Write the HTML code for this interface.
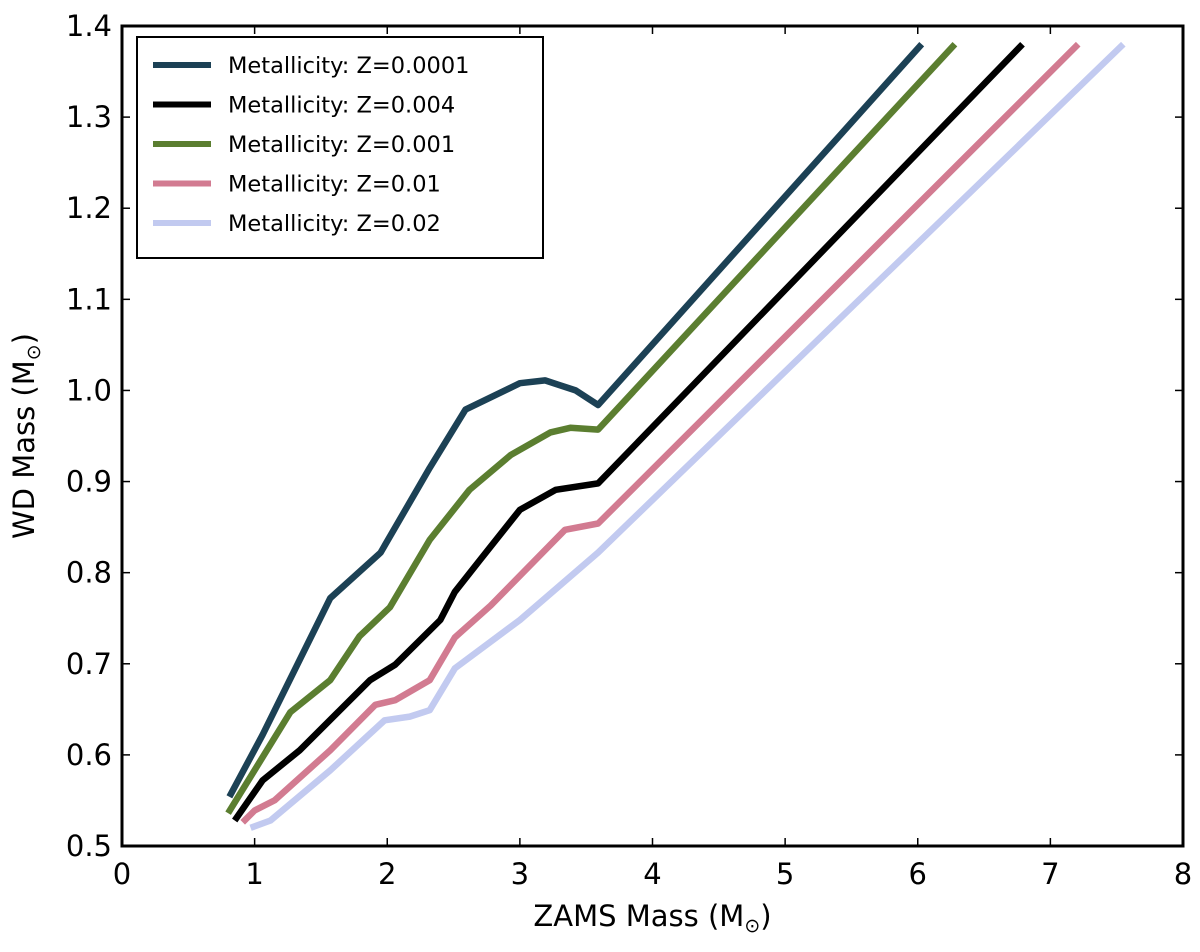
<!DOCTYPE html>
<html><head><meta charset="utf-8"><style>
body{margin:0;background:#fff}
svg text{font-family:"DejaVu Sans","Liberation Sans",sans-serif;fill:#000}
</style></head><body>
<svg id="chart" width="1200" height="947" xmlns="http://www.w3.org/2000/svg">
<g id="plot"></g>
</svg>
<script>
const seriesNames=["Metallicity: Z=0.0001","Metallicity: Z=0.004","Metallicity: Z=0.001","Metallicity: Z=0.01","Metallicity: Z=0.02"];
const seriesColors=["#1c4155","#000000","#5b7e30","#d27b91","#c2caf0"];
const xTicks=[0,1,2,3,4,5,6,7,8];
const yTicks=[0.5,0.6,0.7,0.8,0.9,1.0,1.1,1.2,1.3,1.4];
const z0001x=[0.81,1.06,1.57,1.95,2.32,2.59,3.0,3.19,3.42,3.59,6.03];
const z0001y=[0.554,0.622,0.772,0.822,0.915,0.979,1.008,1.011,1.0,0.984,1.38];
const z004x=[0.85,1.06,1.34,1.87,2.06,2.40,2.51,2.70,3.0,3.27,3.59,6.79];
const z004y=[0.528,0.572,0.605,0.682,0.699,0.748,0.779,0.814,0.869,0.891,0.898,1.38];
const z001x=[0.80,1.27,1.57,1.79,2.02,2.32,2.62,2.93,3.23,3.38,3.59,6.28];
const z001y=[0.536,0.647,0.682,0.730,0.762,0.836,0.891,0.929,0.954,0.959,0.957,1.38];
const z01x=[0.91,1.0,1.15,1.57,1.91,2.06,2.32,2.51,2.78,3.34,3.59,7.21];
const z01y=[0.526,0.539,0.55,0.605,0.655,0.660,0.682,0.729,0.764,0.847,0.854,1.38];
const z02x=[0.97,1.12,1.57,1.98,2.17,2.32,2.51,3.0,3.59,7.55];
const z02y=[0.520,0.528,0.583,0.638,0.642,0.649,0.695,0.748,0.822,1.38];
const seriesX=[z0001x,z004x,z001x,z01x,z02x];
const seriesY=[z0001y,z004y,z001y,z01y,z02y];

const L=122,R=1183,T=26,B=846;
const xS=v=>L+(v-0)/8*(R-L);
const yS=v=>B-(v-0.5)/0.9*(B-T);
const NS="http://www.w3.org/2000/svg";
const g=document.getElementById('plot');
function mk(t,a,p){const e=document.createElementNS(NS,t);for(const k in a)e.setAttribute(k,a[k]);(p||g).appendChild(e);return e;}

const clip=mk('clipPath',{id:'cp'});mk('rect',{x:L,y:T,width:R-L,height:B-T},clip);
seriesX.forEach((xs,i)=>{
  const d=xs.map((x,j)=>(j?'L':'M')+xS(x).toFixed(1)+','+yS(seriesY[i][j]).toFixed(1)).join(' ');
  const p=mk('path',{d:d,fill:'none',stroke:seriesColors[i],'stroke-width':6.5,'stroke-linejoin':'round','clip-path':'url(#cp)'});
  
  
});
xTicks.forEach(v=>{
  const x=xS(v);
  mk('line',{x1:x,y1:B,x2:x,y2:B-8,stroke:'#000','stroke-width':1.5});
  mk('line',{x1:x,y1:T,x2:x,y2:T+8,stroke:'#000','stroke-width':1.5});
  const t=mk('text',{x:x,y:B+38,'text-anchor':'middle','font-size':29});t.textContent=v;
  
  
});
yTicks.forEach(v=>{
  const y=yS(v);
  mk('line',{x1:L,y1:y,x2:L+8,y2:y,stroke:'#000','stroke-width':1.5});
  mk('line',{x1:R,y1:y,x2:R-8,y2:y,stroke:'#000','stroke-width':1.5});
  const t=mk('text',{x:L-10,y:y+10,'text-anchor':'end','font-size':29});t.textContent=v.toFixed(1);
  
  
});
const fr=mk('rect',{x:L,y:T,width:R-L,height:B-T,fill:'none',stroke:'#000','stroke-width':3});


const xl=mk('text',{x:(L+R)/2,y:926,'text-anchor':'middle','font-size':29});
xl.innerHTML='ZAMS Mass (M<tspan font-size="19" dy="6">⊙</tspan><tspan dy="-6">)</tspan>';


const yl=mk('text',{x:0,y:0,'text-anchor':'middle','font-size':29,transform:'translate(34,436) rotate(-90)'});
yl.innerHTML='WD Mass (M<tspan font-size="19" dy="6">⊙</tspan><tspan dy="-6">)</tspan>';


const lg=mk('g',{});


mk('rect',{x:137,y:37,width:406,height:221,fill:'#fff',stroke:'#000','stroke-width':2},lg);
seriesNames.forEach((n,i)=>{
  const y=65+i*39.5;
  mk('line',{x1:153,y1:y,x2:211,y2:y,stroke:seriesColors[i],'stroke-width':6},lg);
  const t=mk('text',{x:228,y:y+8,'font-size':22.5},lg);t.textContent=n;
  
  
});
</script>
</body></html>
